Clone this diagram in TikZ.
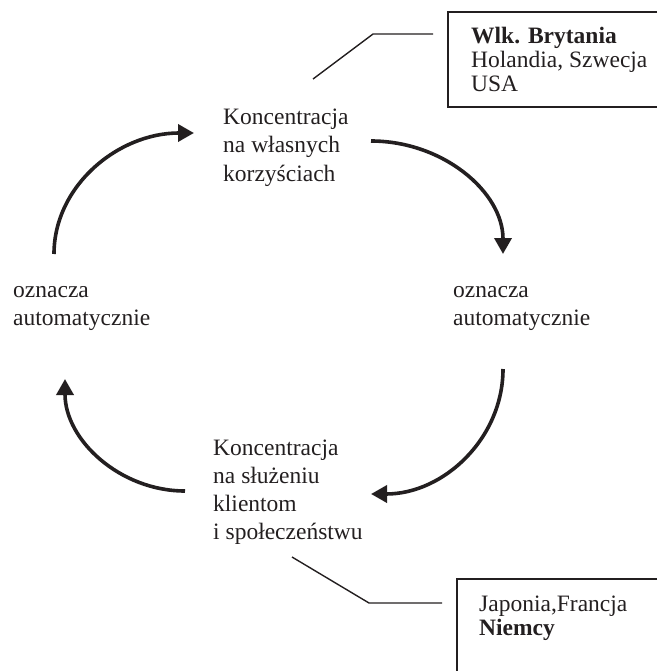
\documentclass[tikz,border=0pt]{standalone}
\usepackage{fontspec}
\setmainfont{Liberation Serif}
\usetikzlibrary{arrows.meta}
\definecolor{ink}{RGB}{35,31,32}
\tikzset{
  txt/.style={anchor=base west, inner sep=0pt, text=ink, font=\fontsize{23.5}{28}\selectfont},
  boxtxt/.style={anchor=base west, inner sep=0pt, text=ink, font=\fontsize{23.5}{24}\selectfont},
  cyc/.style={line width=3.6pt, draw=ink, -{Triangle[length=16pt,width=17pt]}},
  leader/.style={line width=1.4pt, draw=ink},
  frame/.style={line width=2pt, draw=ink}
}
\begin{document}
\begin{tikzpicture}[x=1pt,y=-1pt]
\useasboundingbox (0,0) rectangle (657,671);
% text blocks
\node[txt] (top) at (223,125) {\begin{tabular}[t]{@{}l@{}}Koncentracja\\na własnych\\korzyściach\end{tabular}};
\node[txt] (right) at (453,297) {\begin{tabular}[t]{@{}l@{}}oznacza\\automatycznie\end{tabular}};
\node[txt] (left) at (13,297) {\begin{tabular}[t]{@{}l@{}}oznacza\\automatycznie\end{tabular}};
\node[txt] (bottom) at (213,455) {\begin{tabular}[t]{@{}l@{}}Koncentracja\\na służeniu\\klientom\\i społeczeństwu\end{tabular}};
\node[boxtxt] (uk) at (471,44) {\begin{tabular}[t]{@{}l@{}}\textbf{Wlk. Brytania}\\Holandia, Szwecja\\USA\end{tabular}};
\node[boxtxt] (jp) at (479,611) {\begin{tabular}[t]{@{}l@{}}Japonia,Francja\\\textbf{Niemcy}\end{tabular}};
% boxes (cut by the picture edge)
\draw[frame] (657,12) -- (448,12) -- (448,107) -- (657,107);
\draw[frame] (657,579) -- (457,579) -- (457,671);
% leader lines
\coordinate (l1a) at (313,79);
\coordinate (l1b) at (373,34);
\coordinate (l1c) at (433,34);
\draw[leader] (l1a) -- (l1b) -- (l1c);
\coordinate (l2a) at (292,557);
\coordinate (l2b) at (369,603);
\coordinate (l2c) at (442,603);
\draw[leader] (l2a) -- (l2b) -- (l2c);
% cycle arrows
\coordinate (a1s) at (54,254);
\coordinate (a1e) at (194,133);
\draw[cyc] (a1s) .. controls (54,186) and (118,133) .. (a1e);
\coordinate (a2s) at (371,141);
\coordinate (a2e) at (503,254);
\draw[cyc] (a2s) .. controls (443,141) and (503,192) .. (a2e);
\coordinate (a3s) at (503,369);
\coordinate (a3e) at (371,494);
\draw[cyc] (a3s) .. controls (503,438) and (444,494) .. (a3e);
\coordinate (a4s) at (185,491);
\coordinate (a4e) at (65,379);
\draw[cyc] (a4s) .. controls (120,491) and (65,440) .. (a4e);
\end{tikzpicture}
\end{document}
